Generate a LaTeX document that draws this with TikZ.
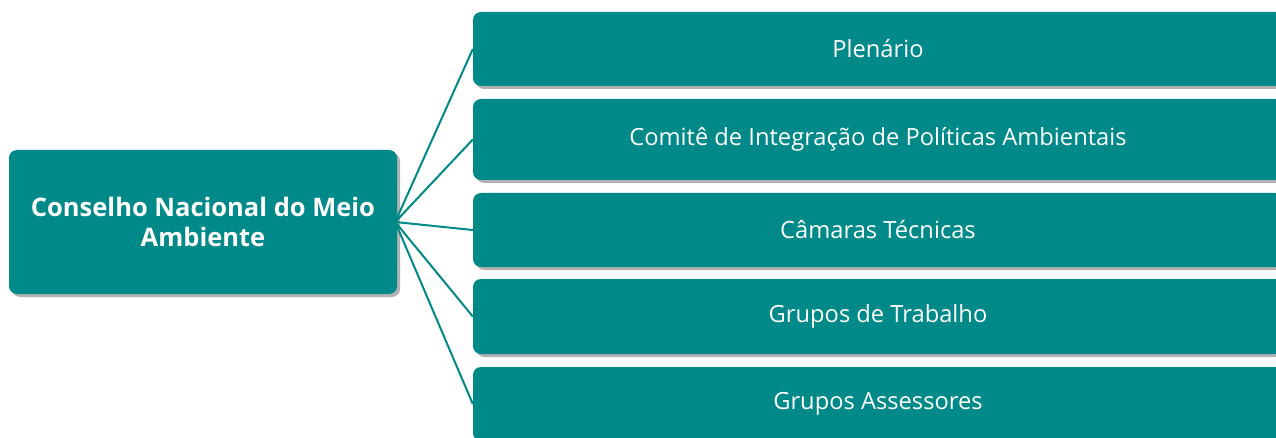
\documentclass[tikz,border=0pt]{standalone}
\usepackage{fontspec}
\setmainfont{Open Sans}
\usepackage{xcolor}
\usetikzlibrary{shadows}

\definecolor{teal}{RGB}{0,137,137}
\tikzset{
	orgbox/.style={fill=teal, rounded corners=8pt, text=white, inner sep=0pt,
		drop shadow={shadow xshift=3pt, shadow yshift=-3pt, opacity=0.3, fill=black}},
	sub/.style={orgbox, minimum width=810pt, font=\fontsize{23.7}{28}\selectfont},
	link/.style={draw=teal, line width=2pt}
}

\begin{document}
\begin{tikzpicture}[x=1pt, y=-1pt]
	\useasboundingbox (0,0) rectangle (1276,438);
	
	\node[orgbox, minimum width=388pt, minimum height=144pt, align=center,
		font=\bfseries\fontsize{25.5}{30}\selectfont] (cnma) at (203,222)
		{Conselho Nacional do Meio\\Ambiente};
	
	\node[sub, minimum height=74pt] (plen) at (878,49) {Plenário};
	\node[sub, minimum height=81pt] (comite) at (878,139.5) {Comitê de Integração de Políticas Ambientais};
	\node[sub, minimum height=74pt] (camaras) at (878,230) {Câmaras Técnicas};
	\node[sub, minimum height=75pt] (gt) at (878,316.5) {Grupos de Trabalho};
	\node[sub, minimum height=74pt] (ga) at (878,404) {Grupos Assessores};
	
	\foreach \n in {plen,comite,camaras,gt,ga}
		\draw[link] ([xshift=-2pt]cnma.east) -- (\n.west);
\end{tikzpicture}
\end{document}
